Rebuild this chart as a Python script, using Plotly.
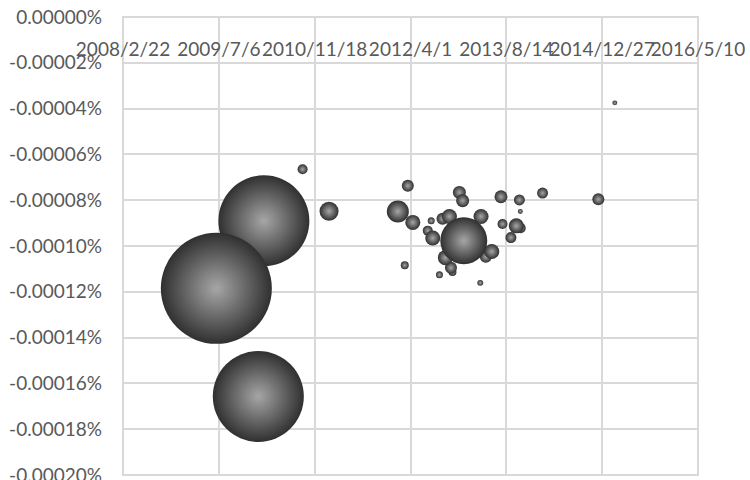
import plotly.graph_objects as go

# Bubble data: date, value (in percent units), bubble size
dates = [
    "2010-02-26", "2009-06-23", "2010-01-28", "2010-09-16", "2011-02-01",
    "2012-03-18", "2012-01-26", "2012-04-13", "2012-07-18", "2012-06-30",
    "2012-07-26", "2012-09-15", "2012-10-21", "2012-12-12", "2012-12-29",
    "2013-01-04", "2013-04-04", "2013-05-30", "2013-04-29", "2012-09-30",
    "2012-10-29", "2012-08-30", "2012-03-02", "2013-03-31", "2013-07-17",
    "2013-10-21", "2013-10-26", "2014-02-19", "2013-07-25", "2013-10-05",
    "2013-10-28", "2013-09-07", "2014-12-07", "2015-03-03", "2012-11-06",
]
values = [
    -0.0000890, -0.0001185, -0.0001657, -0.0000665, -0.0000848,
    -0.0000737, -0.0000849, -0.0000897, -0.0000890, -0.0000933,
    -0.0000965, -0.0000881, -0.0000871, -0.0000766, -0.0000802,
    -0.0000977, -0.0000871, -0.0001024, -0.0001047, -0.0001051,
    -0.0001095, -0.0001126, -0.0001084, -0.0001161, -0.0000785,
    -0.0000799, -0.0000849, -0.0000769, -0.0000904, -0.0000912,
    -0.0000922, -0.0000963, -0.0000796, -0.0000375, -0.0001113,
]
sizes = [
    67.2, 100.0, 67.2, 0.81, 2.93,
    1.17, 3.93, 1.83, 0.40, 0.81,
    1.83, 1.17, 1.83, 1.37, 1.37,
    17.9, 1.83, 1.83, 1.17, 1.83,
    1.17, 0.40, 0.52, 0.29, 1.37,
    0.98, 0.20, 0.98, 0.81, 1.83,
    0.81, 0.98, 1.17, 0.20, 0.52,
]

# Axis ticks
x_tickvals = ["2008-02-22", "2009-07-06", "2010-11-18", "2012-04-01",
              "2013-08-14", "2014-12-27", "2016-05-10"]
x_ticktext = ["2008/2/22", "2009/7/6", "2010/11/18", "2012/4/1",
              "2013/8/14", "2014/12/27", "2016/5/10"]
y_tickvals = [0, -0.00002, -0.00004, -0.00006, -0.00008, -0.00010,
              -0.00012, -0.00014, -0.00016, -0.00018, -0.00020]
y_ticktext = ["0.00000%", "-0.00002%", "-0.00004%", "-0.00006%", "-0.00008%",
              "-0.00010%", "-0.00012%", "-0.00014%", "-0.00016%", "-0.00018%",
              "-0.00020%"]

# smaller bubbles underneath, larger ones on top
order = sorted(range(len(sizes)), key=lambda i: sizes[i])
max_diameter = 111

fig = go.Figure(go.Scatter(
    x=[dates[i] for i in order],
    y=[values[i] for i in order],
    mode="markers",
    marker=dict(
        size=[sizes[i] for i in order],
        sizemode="area",
        sizeref=2.0 * max(sizes) / max_diameter ** 2,
        color="#303030",
        gradient=dict(type="radial", color="#a6a6a6"),
        line=dict(width=0),
        opacity=1,
    ),
    hoverinfo="skip",
))

grid = "#d9d9d9"
font = dict(family="Lato, 'Open Sans', sans-serif", size=19, color="#595959")

# the date axis crosses the value axis at zero, near the top of the plot
plot_h = 480 - 17 - 5
x_axis_pos = 1 - 19 / plot_h

fig.update_layout(
    width=750, height=480,
    margin=dict(l=123, r=52, t=17, b=5, autoexpand=False),
    paper_bgcolor="white", plot_bgcolor="white",
    showlegend=False,
    font=font,
    xaxis=dict(
        type="date",
        range=["2008-02-22", "2016-05-10"],
        tickmode="array", tickvals=x_tickvals, ticktext=x_ticktext,
        side="bottom", anchor="free", position=x_axis_pos,
        ticks="", tickangle=0, ticklabelstandoff=0,
        ticklabeloverflow="allow", automargin=False,
        showgrid=True, gridcolor=grid, gridwidth=2,
        showline=False, zeroline=False,
    ),
    yaxis=dict(
        range=[-0.0002, 0],
        tickmode="array", tickvals=y_tickvals, ticktext=y_ticktext,
        ticks="", ticklabelstandoff=20, ticklabeloverflow="allow",
        automargin=False,
        showgrid=True, gridcolor=grid, gridwidth=2,
        showline=False, zeroline=False,
    ),
    shapes=[dict(type="rect", xref="paper", yref="paper",
                 x0=0, x1=1, y0=0, y1=1,
                 line=dict(color=grid, width=2), layer="below")],
)

fig.write_html("out.html")
